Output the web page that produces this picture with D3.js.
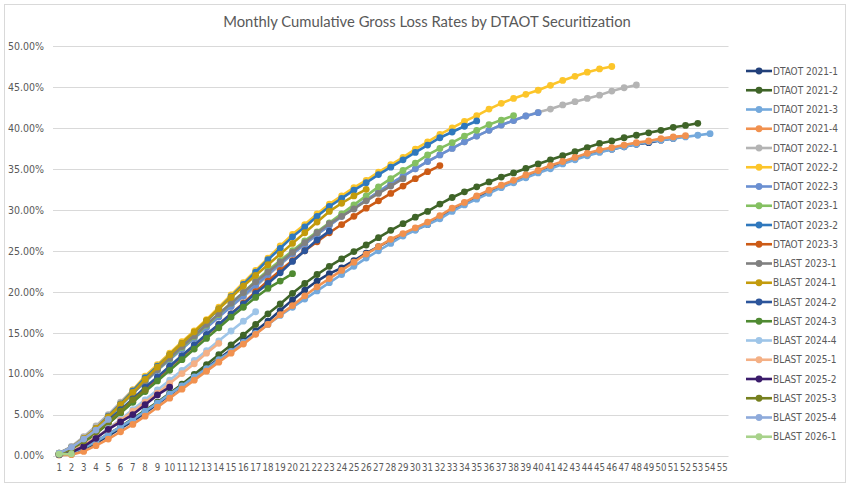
<!DOCTYPE html>
<html>

<head>
    <meta charset=utf-8 />
    <script src="https://cdn.jsdelivr.net/npm/d3@7"></script>
    <title>Monthly Cumulative Gross Loss Rates</title>
    <style>
        html,
        body {
            margin: 0;
            padding: 0;
            background: #fff;
        }

        text {
            font-family: "DejaVu Sans Condensed", "Liberation Sans", sans-serif;
            fill: #595959;
        }
    </style>
</head>

<body>
    <div id="svg-canvas"></div>
    <script>
        // months since closing (x axis categories)
        var months = d3.range(1, 56);
        var yTicks = [0, 5, 10, 15, 20, 25, 30, 35, 40, 45, 50];

        var seriesNames = ['DTAOT 2021-1', 'DTAOT 2021-2', 'DTAOT 2021-3', 'DTAOT 2021-4', 'DTAOT 2022-1',
            'DTAOT 2022-2', 'DTAOT 2022-3', 'DTAOT 2023-1', 'DTAOT 2023-2', 'DTAOT 2023-3',
            'BLAST 2023-1', 'BLAST 2024-1', 'BLAST 2024-2', 'BLAST 2024-3', 'BLAST 2024-4',
            'BLAST 2025-1', 'BLAST 2025-2', 'BLAST 2025-3', 'BLAST 2025-4', 'BLAST 2026-1'];

        var seriesColors = ['#22407a', '#3f6428', '#74a9dc', '#f1914f', '#b4b4b4',
            '#fcc52a', '#6a8fd1', '#84c061', '#2f78bd', '#cc5b16',
            '#808080', '#c39b0c', '#2c559b', '#4f8a32', '#9ec5e8',
            '#f4b085', '#3b1c6b', '#76801e', '#8eaadb', '#a8d28b'];

        // cumulative gross loss, percent
        var dtaot2021_1 = [0.1, 0.3, 0.8, 1.5, 2.4, 3.3, 4.2, 5.2, 6.3, 7.4, 8.5, 9.6, 10.7, 11.8, 12.9, 14.0, 15.2, 16.4, 17.7, 19.0,
            20.2, 21.3, 22.2, 22.9, 23.8, 24.7, 25.5, 26.3, 27.0, 27.6, 28.2, 29.1, 30.0, 30.8, 31.5, 32.2, 32.8, 33.4, 34.0, 34.6,
            35.2, 35.7, 36.2, 36.7, 37.1, 37.4, 37.7, 38.0, 38.2, 38.5, 38.7];
        var dtaot2021_2 = [0.1, 0.3, 0.9, 1.7, 2.6, 3.5, 4.5, 5.5, 6.5, 7.6, 8.7, 9.9, 11.1, 12.3, 13.5, 14.7, 16.0, 17.3, 18.5, 19.8,
            21.0, 22.1, 23.1, 24.0, 24.9, 25.7, 26.6, 27.5, 28.3, 29.1, 29.8, 30.7, 31.5, 32.2, 32.8, 33.4, 34.0, 34.5, 35.05, 35.6,
            36.1, 36.6, 37.1, 37.6, 38.1, 38.4, 38.8, 39.1, 39.4, 39.7, 40.07, 40.3, 40.56];
        var dtaot2021_3 = [0.1, 0.3, 0.9, 1.7, 2.6, 3.5, 4.4, 5.4, 6.4, 7.5, 8.5, 9.6, 10.6, 11.7, 12.7, 13.8, 14.9, 16.0, 17.1, 18.1,
            19.1, 20.1, 21.1, 22.1, 23.1, 24.1, 25.0, 25.9, 26.8, 27.5, 28.2, 28.9, 29.8, 30.6, 31.3, 32.0, 32.7, 33.3, 33.9, 34.5,
            35.0, 35.6, 36.1, 36.6, 37.0, 37.4, 37.7, 38.0, 38.3, 38.5, 38.7, 38.9, 39.1, 39.3];
        var dtaot2021_4 = [0.05, 0.1, 0.5, 1.2, 2.0, 2.9, 3.8, 4.8, 5.9, 7.0, 8.1, 9.2, 10.3, 11.4, 12.5, 13.6, 14.8, 16.0, 17.2, 18.3,
            19.5, 20.6, 21.6, 22.6, 23.6, 24.6, 25.5, 26.4, 27.1, 27.8, 28.5, 29.3, 30.2, 30.9, 31.7, 32.4, 33.0, 33.6, 34.25, 34.8,
            35.4, 35.9, 36.4, 36.9, 37.3, 37.6, 37.9, 38.2, 38.4, 38.7, 38.9, 39.05];
        var dtaot2022_1 = [0.3, 1.1, 2.3, 3.6, 5.0, 6.5, 8.0, 9.4, 10.8, 12.1, 13.4, 14.6, 15.8, 17.0, 18.2, 19.4, 20.6, 22.0, 23.3, 24.6,
            25.8, 27.0, 28.1, 29.2, 30.2, 31.2, 32.2, 33.2, 34.1, 35.0, 35.9, 36.7, 37.5, 38.3, 39.0, 39.7, 40.35, 40.9, 41.45, 41.9,
            42.3, 42.8, 43.2, 43.6, 44.0, 44.5, 44.9, 45.24];
        var dtaot2022_2 = [0.2, 0.8, 1.9, 3.2, 4.7, 6.3, 8.0, 9.7, 11.1, 12.5, 13.9, 15.2, 16.6, 18.1, 19.6, 21.1, 22.6, 24.1, 25.6, 27.0,
            28.2, 29.5, 30.7, 31.7, 32.7, 33.6, 34.6, 35.5, 36.4, 37.4, 38.3, 39.2, 40.0, 40.8, 41.5, 42.3, 43.0, 43.6, 44.1, 44.6,
            45.2, 45.8, 46.3, 46.8, 47.2, 47.5];
        var dtaot2022_3 = [0.3, 1.0, 2.1, 3.3, 4.7, 6.1, 7.6, 9.0, 10.4, 11.7, 13.0, 14.3, 15.6, 16.9, 18.2, 19.5, 20.8, 22.1, 23.4, 24.6,
            25.8, 27.0, 28.1, 29.2, 30.2, 31.2, 32.2, 33.2, 34.1, 35.0, 35.9, 36.7, 37.5, 38.3, 39.0, 39.7, 40.35, 40.9, 41.45, 41.86];
        var dtaot2023_1 = [0.2, 0.9, 2.0, 3.2, 4.6, 6.1, 7.6, 9.1, 10.5, 11.8, 13.2, 14.5, 15.9, 17.2, 18.6, 19.9, 21.3, 22.6, 23.8, 25.0,
            26.2, 27.3, 28.4, 29.5, 30.6, 31.7, 32.8, 33.8, 34.8, 35.7, 36.7, 37.5, 38.2, 39.0, 39.7, 40.4, 40.96, 41.5];
        var dtaot2023_2 = [0.2, 0.9, 2.0, 3.3, 4.8, 6.3, 7.9, 9.5, 10.9, 12.3, 13.7, 15.0, 16.4, 17.9, 19.4, 20.9, 22.4, 23.9, 25.3, 26.7,
            27.9, 29.2, 30.4, 31.4, 32.4, 33.3, 34.3, 35.2, 36.1, 37.0, 37.9, 38.8, 39.5, 40.2, 40.85];
        var dtaot2023_3 = [0.2, 0.7, 1.6, 2.7, 3.9, 5.2, 6.6, 8.0, 9.4, 10.8, 12.1, 13.4, 14.7, 16.0, 17.3, 18.6, 20.0, 21.3, 22.6, 23.8,
            25.0, 26.1, 27.2, 28.2, 29.2, 30.2, 31.1, 32.0, 32.9, 33.8, 34.65, 35.4];
        var blast2023_1 = [0.2, 0.9, 2.0, 3.3, 4.7, 6.2, 7.6, 9.1, 10.5, 11.9, 13.3, 14.6, 16.0, 17.3, 18.6, 19.9, 21.2, 22.4, 23.6, 24.8,
            26.0, 27.2, 28.3, 29.2, 30.1, 31.1, 32.0, 32.9, 33.8];
        var blast2024_1 = [0.3, 1.0, 2.1, 3.3, 4.7, 6.2, 7.7, 9.3, 10.8, 12.3, 13.7, 15.1, 16.5, 17.9, 19.3, 20.7, 22.0, 23.3, 24.6, 25.9,
            27.2, 28.5, 29.8, 30.8, 31.7, 32.5];
        var blast2024_2 = [0.2, 0.8, 1.8, 3.0, 4.3, 5.6, 6.9, 8.3, 9.6, 10.9, 12.2, 13.5, 14.8, 16.0, 17.3, 18.5, 19.8, 21.0, 22.3, 23.7,
            25.0, 26.3, 27.4];
        var blast2024_3 = [0.1, 0.7, 1.6, 2.7, 3.9, 5.2, 6.5, 7.8, 9.1, 10.4, 11.7, 13.0, 14.3, 15.6, 16.9, 18.1, 19.3, 20.4, 21.3, 22.2];
        var blast2024_4 = [0.1, 0.5, 1.3, 2.2, 3.3, 4.4, 5.6, 6.8, 8.0, 9.2, 10.4, 11.6, 12.8, 14.0, 15.2, 16.4, 17.55];
        var blast2025_1 = [0.1, 0.5, 1.3, 2.2, 3.2, 4.3, 5.4, 6.5, 7.6, 8.8, 10.0, 11.2, 12.5, 13.7];
        var blast2025_2 = [0.1, 0.4, 1.1, 2.1, 3.2, 4.1, 5.0, 6.2, 7.4, 8.35];
        var blast2025_3 = [0.2, 0.8, 1.8, 2.9, 4.1, 5.4, 6.8, 8.0];
        var blast2025_4 = [0.3, 1.0, 2.0, 3.1, 4.4];
        var blast2026_1 = [0.15, 0.2];

        var seriesValues = [dtaot2021_1, dtaot2021_2, dtaot2021_3, dtaot2021_4, dtaot2022_1,
            dtaot2022_2, dtaot2022_3, dtaot2023_1, dtaot2023_2, dtaot2023_3,
            blast2023_1, blast2024_1, blast2024_2, blast2024_3, blast2024_4,
            blast2025_1, blast2025_2, blast2025_3, blast2025_4, blast2026_1];
    </script>
    <script>
        var W = 850, H = 487;
        var svg = d3.select('#svg-canvas').append('svg')
            .attr('width', W)
            .attr('height', H)

        // chart area border
        svg.append('rect')
            .attr('x', 4.5).attr('y', 4.5)
            .attr('width', 841).attr('height', 478)
            .attr('fill', '#fff')
            .attr('stroke', '#d9d9d9')

        svg.append('text')
            .attr('x', 427)
            .attr('y', 27)
            .attr('text-anchor', 'middle')
            .style('font-family', 'Lato, "DejaVu Sans Condensed", sans-serif')
            .style('font-size', '14.8px')
            .text('Monthly Cumulative Gross Loss Rates by DTAOT Securitization')

        var x = d3.scaleBand().domain(months).range([53, 728.5]).paddingInner(0).paddingOuter(0)
        var y = d3.scaleLinear().domain([0, 50]).range([455.5, 46])
        var cx = d => x(d) + x.bandwidth() / 2;

        // gridlines
        svg.append('g')
            .selectAll('line')
            .data(yTicks)
            .join('line')
            .attr('x1', 53).attr('x2', 728.5)
            .attr('y1', d => Math.round(y(d)) + 0.5)
            .attr('y2', d => Math.round(y(d)) + 0.5)
            .attr('stroke', '#d9d9d9')

        var axisY = svg.append('g')
            .attr('transform', 'translate(44,0)')
            .call(d3.axisLeft(y).tickValues(yTicks).tickSize(0).tickPadding(0).tickFormat(d => d.toFixed(2) + '%'))
        axisY.select('.domain').remove()
        axisY.selectAll('text').style('font-size', '10.5px').style('fill', '#595959')

        var axisX = svg.append('g')
            .attr('transform', 'translate(0,459)')
            .call(d3.axisBottom(x).tickSize(0).tickPadding(5))
        axisX.select('.domain').remove()
        axisX.selectAll('text').style('font-size', '9.6px').style('fill', '#595959')

        var line = d3.line()
            .x((d, i) => cx(months[i]))
            .y(d => y(d))

        var plot = svg.append('g')
        seriesValues.forEach(function (vals, k) {
            var g = plot.append('g')
            g.append('path')
                .datum(vals)
                .attr('d', line)
                .attr('fill', 'none')
                .attr('stroke', seriesColors[k])
                .attr('stroke-width', 2.6)
                .attr('stroke-linejoin', 'round')
            g.selectAll('circle')
                .data(vals)
                .join('circle')
                .attr('cx', (d, i) => cx(months[i]))
                .attr('cy', d => y(d))
                .attr('r', 3.4)
                .attr('fill', seriesColors[k])
        })

        // legend
        var legend = svg.append('g')
            .selectAll('g')
            .data(seriesNames)
            .join('g')
            .attr('transform', (d, i) => 'translate(0,' + (71 + i * 19.25) + ')')
        legend.append('line')
            .attr('x1', 746).attr('x2', 772)
            .attr('stroke', (d, i) => seriesColors[i])
            .attr('stroke-width', 2.6)
        legend.append('circle')
            .attr('cx', 759).attr('r', 3.4)
            .attr('fill', (d, i) => seriesColors[i])
        legend.append('text')
            .attr('x', 773)
            .attr('dy', '0.35em')
            .style('font-size', '10px')
            .text(d => d)
    </script>
</body>

</html>
